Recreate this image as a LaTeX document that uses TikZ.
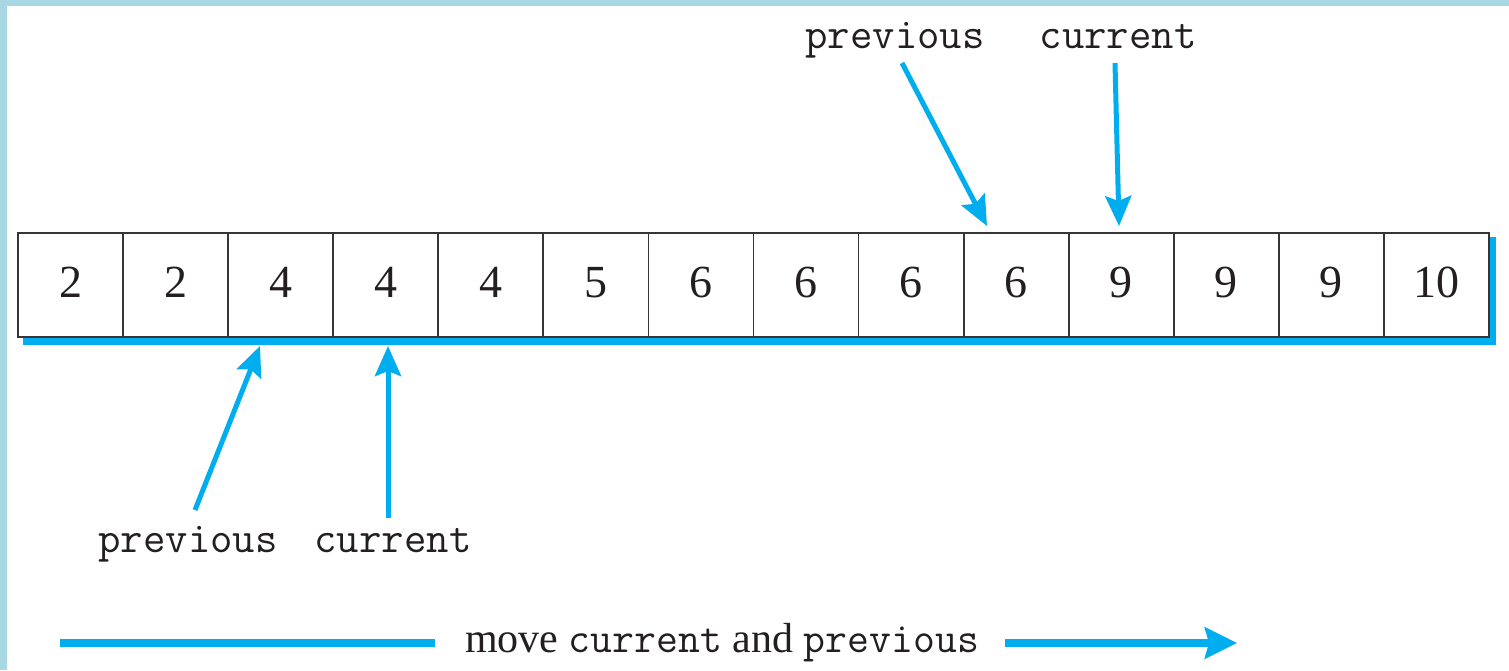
\documentclass[tikz,border=0pt]{standalone}
\usepackage{fontspec}
\setmainfont{Liberation Serif}
\usetikzlibrary{arrows.meta}
\definecolor{frameblue}{HTML}{A6D7E3}
\definecolor{pblue}{HTML}{00AEEF}
\definecolor{ink}{HTML}{231F20}
\begin{document}
\begin{tikzpicture}[x=1pt,y=-1pt,
  cell/.style={draw=ink!90, fill=white, line width=1.8pt, minimum width=105.07pt,
    minimum height=104pt, inner sep=0pt, text height=24pt, text depth=0pt,
    font=\fontsize{46}{50}\selectfont, text=ink},
  lbl/.style={font=\ttfamily\fontsize{43.5}{48}\selectfont, text=ink, inner sep=0pt, anchor=base},
  ptr/.style={pblue, line width=5pt, -{Stealth[length=30pt,width=26pt,inset=5pt]}},
  bar/.style={pblue, line width=8.5pt}]
\useasboundingbox (0,0) rectangle (1509,670);
\fill[white] (0,0) rectangle (1509,670);
\fill[frameblue] (0,0) rectangle (7,670);
\fill[frameblue] (0,0) rectangle (1509,6);
% shadow
\fill[pblue] (23,237) rectangle (1496,345);
% cells
\foreach \v [count=\i] in {2,2,4,4,4,5,6,6,6,6,9,9,9,10}
  \node[cell] (c\i) at ({18+105.07*(\i-0.5)},285) {\v};
% labels
\node[lbl] (prevT) at (895,48) {previous};
\node[lbl] (curT) at (1118,48) {current};
\node[lbl] (prevB) at (188,552) {previous};
\node[lbl] (curB) at (393,552) {current};
% pointer ends
\coordinate (a1s) at (902,63);  \coordinate (a1e) at (987,226);
\coordinate (a2s) at (1115,63); \coordinate (a2e) at (1119,226);
\coordinate (a3s) at (195,510); \coordinate (a3e) at (260,346);
\coordinate (a4s) at (388,518); \coordinate (a4e) at (388,346);
\draw[ptr] (a1s) -- (a1e);
\draw[ptr] (a2s) -- (a2e);
\draw[ptr] (a3s) -- (a3e);
\draw[ptr] (a4s) -- (a4e);
% bottom caption
\node[font=\fontsize{42}{46}\selectfont, text=ink, anchor=base, inner sep=0pt] (mv) at (722,652)
  {move {\ttfamily\fontsize{42.5}{46}\selectfont current} and {\ttfamily\fontsize{42.5}{46}\selectfont previous}};
\coordinate (bl) at (60,643); \coordinate (blr) at (435,643);
\coordinate (br) at (1005,643); \coordinate (bre) at (1237,643);
\draw[bar] (bl) -- (blr);
\draw[bar, -{Stealth[length=32pt,width=31pt,inset=4pt]}] (br) -- (bre);
\end{tikzpicture}
\end{document}
